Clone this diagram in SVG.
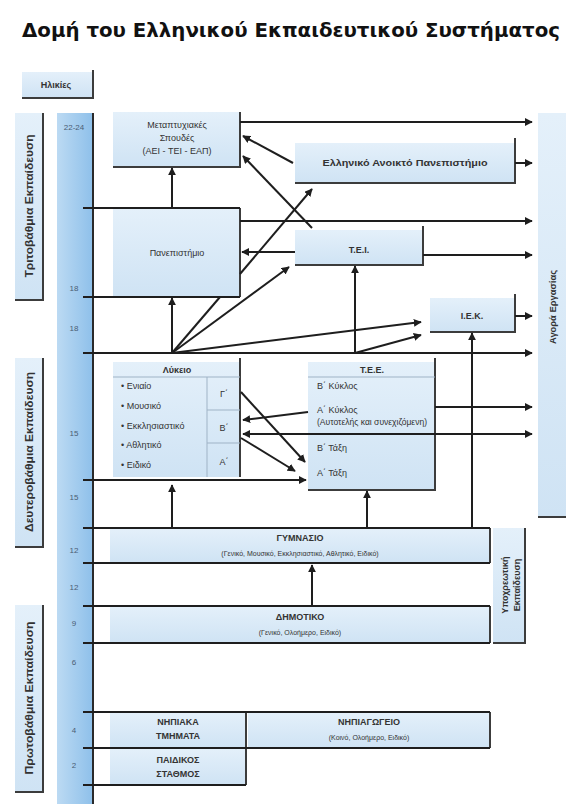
<svg xmlns="http://www.w3.org/2000/svg" width="566" height="804" viewBox="0 0 566 804">
<defs>
<linearGradient id="bg" x1="0" y1="0" x2="0" y2="1"><stop offset="0" stop-color="#e4f0fa"/><stop offset="1" stop-color="#cfe3f4"/></linearGradient>
<linearGradient id="bar" x1="0" y1="0" x2="1" y2="0"><stop offset="0" stop-color="#bcdaf3"/><stop offset="1" stop-color="#8ec0ea"/></linearGradient>
<marker id="ah" viewBox="0 0 10 10" refX="9" refY="5" markerWidth="4" markerHeight="4" orient="auto-start-reverse" markerUnits="strokeWidth"><path d="M0,0 L10,5 L0,10 z" fill="#1e1e1e"/></marker>
<style>
.box{fill:url(#bg)}
.sh{fill:none;stroke:#3c3c3c;stroke-width:2}
.sep{fill:none;stroke:#9fb3c6;stroke-width:1}
.ln{fill:none;stroke:#1e1e1e;stroke-width:2}
.a{marker-end:url(#ah)}
.ab{marker-start:url(#ah);marker-end:url(#ah)}
text{font-family:"Liberation Sans",Arial,sans-serif;fill:#333}
.t{font-size:9px;text-anchor:middle}
.b{font-weight:bold}
.s{font-size:7px}
.l{font-size:9px;text-anchor:start}
.age{font-size:8px;text-anchor:middle;fill:#4a5d74}
.side{font-size:10px;font-weight:bold;text-anchor:middle}
</style>
</defs>
<rect width="566" height="804" fill="#ffffff"/>
<text x="22" y="37" font-family="'DejaVu Sans',sans-serif" font-weight="bold" font-size="19" textLength="538" lengthAdjust="spacingAndGlyphs" style="font-family:'DejaVu Sans',sans-serif;fill:#111">Δομή του Ελληνικού Εκπαιδευτικού Συστήματος</text>

<g id="ages-header"><rect class="box" x="22" y="72" width="71" height="26"/><path class="sh" d="M22,98 H93 V70"/><text class="t b" x="56" y="88">Ηλικίες</text></g>

<g id="age-scale">
<rect x="57" y="113" width="36" height="691" fill="url(#bar)"/>
<line x1="93" y1="113" x2="93" y2="804" stroke="#2a2a2a" stroke-width="2"/>
<text class="age" x="74" y="130">22-24</text>
<text class="age" x="74" y="291">18</text>
<text class="age" x="74" y="331">18</text>
<text class="age" x="74" y="436">15</text>
<text class="age" x="74" y="500">15</text>
<text class="age" x="74" y="553">12</text>
<text class="age" x="74" y="590">12</text>
<text class="age" x="74" y="626">9</text>
<text class="age" x="74" y="665">6</text>
<text class="age" x="74" y="733">4</text>
<text class="age" x="74" y="768">2</text>
</g>

<g id="tertiary-label"><rect class="box" x="15" y="113" width="28" height="187"/><path class="sh" d="M15,300 H43 V113"/><text class="side" x="29" y="210" transform="rotate(-90 29 206)" textLength="143" lengthAdjust="spacingAndGlyphs">Τριτοβάθμια Εκπαίδευση</text></g>
<g id="secondary-label"><rect class="box" x="15" y="358" width="28" height="189"/><path class="sh" d="M15,547 H43 V358"/><text class="side" x="29" y="456" transform="rotate(-90 29 452)" textLength="160" lengthAdjust="spacingAndGlyphs">Δευτεροβάθμια Εκπαίδευση</text></g>
<g id="primary-label"><rect class="box" x="15" y="605" width="28" height="187"/><path class="sh" d="M15,792 H43 V605"/><text class="side" x="29" y="702" transform="rotate(-90 29 698)" textLength="153" lengthAdjust="spacingAndGlyphs">Πρωτοβάθμια Εκπαίδευση</text></g>

<g id="labour-market"><rect class="box" x="538" y="113" width="30" height="404"/><path class="sh" d="M538,517 H566"/><text class="t b" x="553" y="310" transform="rotate(-90 553 307)" textLength="74" lengthAdjust="spacingAndGlyphs">Αγορά Εργασίας</text></g>

<g id="compulsory"><rect class="box" x="493" y="528" width="32" height="115"/><path class="sh" d="M493,643 H525 V528"/><text class="t b" x="505" y="588" font-size="8.5" transform="rotate(-90 505 585)">Υποχρεωτική</text><text class="t b" x="517" y="588" font-size="8.5" transform="rotate(-90 517 585)">Εκπαίδευση</text></g>

<g id="postgrad"><rect class="box" x="113" y="112" width="127" height="55"/><path class="sh" d="M113,167 H240 V112"/><text class="t" x="177" y="128">Μεταπτυχιακές</text><text class="t" x="177" y="141">Σπουδές</text><text class="t" x="177" y="154">(ΑΕΙ - ΤΕΙ - ΕΑΠ)</text></g>
<g id="eap"><rect class="box" x="295" y="143" width="220" height="40"/><path class="sh" d="M295,183 H515 V138"/><text class="t b" x="405" y="166" font-size="8.5" textLength="165" lengthAdjust="spacingAndGlyphs">Ελληνικό Ανοικτό Πανεπιστήμιο</text></g>
<g id="university"><rect class="box" x="113" y="208" width="127" height="89"/><path class="sh" d="M240,208 V297"/><text class="t" x="177" y="256" font-size="9.5">Πανεπιστήμιο</text></g>
<g id="tei"><rect class="box" x="295" y="230" width="128" height="35"/><path class="sh" d="M295,265 H423 V226"/><text class="t b" x="359" y="253">Τ.Ε.Ι.</text></g>
<g id="iek"><rect class="box" x="430" y="298" width="85" height="34"/><path class="sh" d="M430,332 H515 V294"/><text class="t b" x="472" y="319">Ι.Ε.Κ.</text></g>

<g id="lyceum"><rect class="box" x="113" y="362" width="127" height="115"/><path class="sh" d="M240,358 V477"/>
<path class="sep" d="M113,377 H240 M207,377 V477 M207,410 H240 M207,443 H240"/>
<text class="t b" x="177" y="373">Λύκειο</text>
<text class="l" x="121" y="389">• Ενιαίο</text><text class="l" x="121" y="409">• Μουσικό</text><text class="l" x="121" y="429">• Εκκλησιαστικό</text><text class="l" x="121" y="448">• Αθλητικό</text><text class="l" x="121" y="468">• Ειδικό</text>
<text class="t" x="224" y="397">Γ΄</text><text class="t" x="224" y="431">Β΄</text><text class="t" x="224" y="465">Α΄</text></g>

<g id="tee"><rect class="box" x="308" y="362" width="127" height="128"/><path class="sh" d="M308,490 H435 V358"/>
<path class="sep" d="M308,377 H435"/>
<text class="t b" x="372" y="373">Τ.Ε.Ε.</text>
<text class="l" x="317" y="389">Β΄ Κύκλος</text>
<text class="l" x="317" y="413">Α΄ Κύκλος</text>
<text class="l s" x="317" y="425" font-size="6.5" textLength="110" lengthAdjust="spacingAndGlyphs">(Αυτοτελής και συνεχιζόμενη)</text>
<text class="l" x="317" y="451">Β΄ Τάξη</text>
<text class="l" x="317" y="476">Α΄ Τάξη</text></g>

<g id="gymnasio"><rect class="box" x="110" y="528" width="380" height="35"/><path class="sh" d="M490,528 V563"/><text class="t b" x="300" y="541" font-size="9.5">ΓΥΜΝΑΣΙΟ</text><text class="t s" x="300" y="556" font-size="7.5">(Γενικό, Μουσικό, Εκκλησιαστικό, Αθλητικό, Ειδικό)</text></g>
<g id="dimotiko"><rect class="box" x="110" y="606" width="380" height="37"/><path class="sh" d="M490,606 V643"/><text class="t b" x="300" y="620" font-size="9.5">ΔΗΜΟΤΙΚΟ</text><text class="t s" x="300" y="635" font-size="7.5">(Γενικό, Ολοήμερο, Ειδικό)</text></g>
<g id="nipiaka"><rect class="box" x="110" y="712" width="136" height="36"/><path class="sh" d="M246,712 V748"/><text class="t b" x="178" y="725">ΝΗΠΙΑΚΑ</text><text class="t b" x="178" y="739">ΤΜΗΜΑΤΑ</text></g>
<g id="nipiagogeio"><rect class="box" x="248" y="712" width="242" height="36"/><path class="sh" d="M490,712 V748"/><text class="t b" x="369" y="725">ΝΗΠΙΑΓΩΓΕΙΟ</text><text class="t s" x="369" y="740" font-size="7.5">(Κοινό, Ολοήμερο, Ειδικό)</text></g>
<g id="paidikos"><rect class="box" x="110" y="748" width="136" height="37"/><path class="sh" d="M246,748 V785"/><text class="t b" x="178" y="763">ΠΑΙΔΙΚΟΣ</text><text class="t b" x="178" y="777">ΣΤΑΘΜΟΣ</text></g>

<g id="connectors">
<path class="ln" d="M83,208 H240"/>
<path class="ln" d="M83,297 H240"/>
<path class="ln" d="M83,528 H490"/>
<path class="ln" d="M83,563 H490"/>
<path class="ln" d="M83,606 H490"/>
<path class="ln" d="M83,643 H490"/>
<path class="ln" d="M83,712 H490"/>
<path class="ln" d="M83,748 H490"/>
<path class="ln" d="M83,785 H246"/>
<path class="ln a" d="M240,122 H532"/>
<path class="ln a" d="M515,163 H532"/>
<path class="ln a" d="M293,163 L243,136"/>
<path class="ln a" d="M312,228 L243,156"/>
<path class="ln a" d="M172,208 V168"/>
<path class="ln a" d="M240,221 H532"/>
<path class="ln a" d="M295,252 H242"/>
<path class="ln a" d="M423,255 H532"/>
<path class="ln" d="M172,353 L220,297"/>
<path class="ln a" d="M240,274 L312,189"/>
<path class="ln a" d="M172,353 L289,267"/>
<path class="ln a" d="M172,353 V298"/>
<path class="ln a" d="M172,353 L421,322"/>
<path class="ln a" d="M355,353 L421,335"/>
<path class="ln a" d="M355,353 V266"/>
<path class="ln a" d="M83,353 H532"/>
<path class="ln a" d="M472,528 V333"/>
<path class="ln a" d="M515,316 H532"/>
<path class="ln a" d="M435,407 H532"/>
<path class="ln ab" d="M243,434 H532"/>
<path class="ln a" d="M308,412 L243,420"/>
<path class="ln a" d="M241,392 L305,462"/>
<path class="ln a" d="M241,438 L295,471"/>
<path class="ln a" d="M83,480 H306"/>
<path class="ln a" d="M172,528 V485"/>
<path class="ln a" d="M367,528 V491"/>
<path class="ln a" d="M312,606 V565"/>
</g>
</svg>
